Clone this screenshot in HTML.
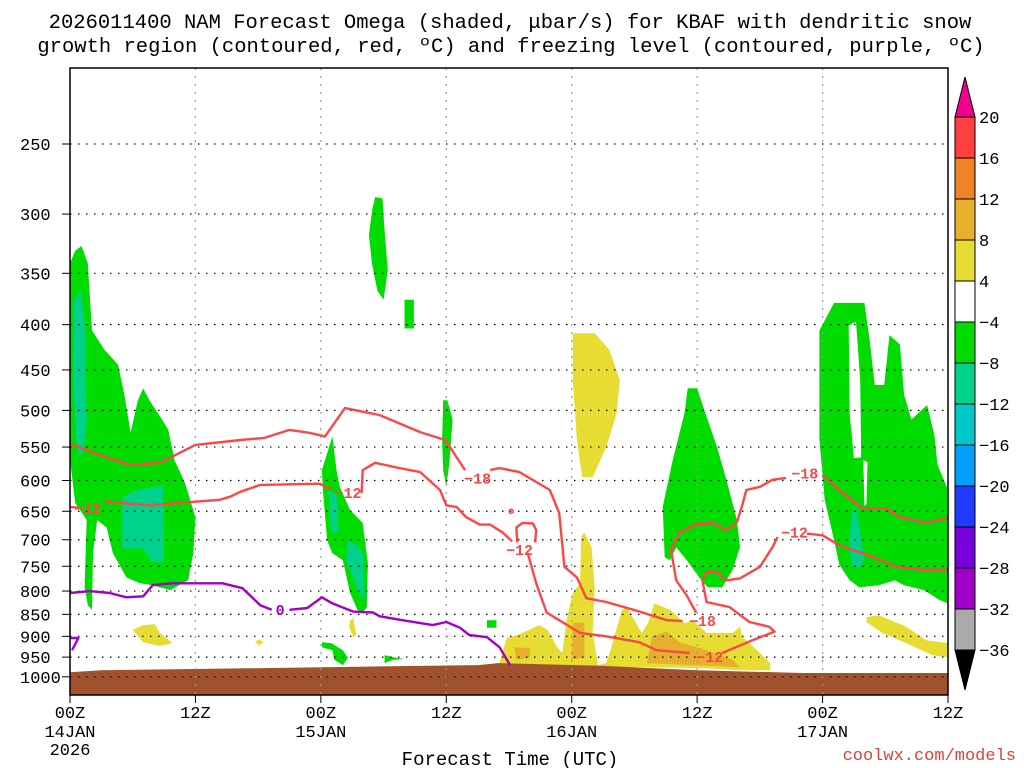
<!DOCTYPE html>
<html><head><meta charset="utf-8"><style>
html,body{margin:0;padding:0;background:#fff;}
svg{display:block;font-family:"Liberation Mono",monospace;}
</style></head><body>
<svg id="chart" width="1024" height="768" viewBox="0 0 1024 768">
<text x="510" y="28" font-size="20.5" text-anchor="middle" fill="#000">2026011400 NAM Forecast Omega (shaded, μbar/s) for KBAF with dendritic snow</text>
<text x="511" y="52" font-size="20.5" text-anchor="middle" fill="#000">growth region (contoured, red, ºC) and freezing level (contoured, purple, ºC)</text>
<defs><clipPath id="pc"><rect x="70" y="68" width="878" height="627"/></clipPath></defs>
<g id="shade" clip-path="url(#pc)"></g>
<g id="grid"></g>
<g id="cont" clip-path="url(#pc)"></g>
<rect x="70" y="68" width="878" height="627" fill="none" stroke="#000" stroke-width="1.5"/>
<g id="axes"></g>
<g id="cbar"></g>
<text x="510" y="765" font-size="19" text-anchor="middle" fill="#000">Forecast Time (UTC)</text>
<text x="1016" y="760" font-size="17" text-anchor="end" fill="#e0403c">coolwx.com/models</text>
</svg>
<script>
const pLevels=[250,300,350,400,450,500,550,600,650,700,750,800,850,900,950,1000];
const xHours=[0,12,24,36,48,60,72,84];
const xTop=["00Z","12Z","00Z","12Z","00Z","12Z","00Z","12Z"];
const xMid=["14JAN","","15JAN","","16JAN","","17JAN",""];
const xBot=["2026","","","","","","",""];
const cbLabels=["20","16","12","8","4","−4","−8","−12","−16","−20","−24","−28","−32","−36"];
const cbColors=["#ff4040","#f08228","#e6af2d","#e6dc32","#ffffff","#00dc00","#00d28c","#00c8c8","#00a0ff","#1e3cff","#7800dc","#a000c8","#aaaaaa"];
const groundH=[0,3,17,25,39,41,51,60,70,84];
const groundP=[988,983,978,975,970,965,972,983,990,990];
const green1=[[0,341],[0.5,330],[1.1,326],[1.7,341],[2.1,406],[3.3,427],[4.6,444],[5.2,480],[5.8,530],[6.5,487],[7.0,472],[7.6,487],[8.8,512],[9.4,526],[10.0,569],[11.0,604],[12.0,660],[11.8,725],[11.3,778],[9.6,798],[7.9,788],[6.7,784],[5.4,772],[4.1,725],[3.5,678],[2.6,665],[2.2,725],[2.1,840],[1.7,830],[1.4,792],[1.6,665],[0.5,636],[0,569]];
const teal1=[[0.4,375],[1.0,366],[1.4,395],[1.6,512],[1.3,554],[0.9,565],[0.6,540],[0.3,462]];
const teal2=[[5.0,628],[5.9,618],[8.9,607],[9.0,742],[7.8,742],[7.0,716],[5.0,716]];
const green2=[[25.1,535],[25.5,584],[25.8,610],[26.8,648],[28.0,670],[28.5,744],[28.4,834],[28.0,846],[27.5,840],[26.8,804],[26.1,738],[25.1,725],[24.6,701],[24.2,615],[24.1,584]];
const teal3=[[24.7,618],[25.5,620],[25.7,687],[25.0,687]];
const teal4=[[26.6,701],[27.2,707],[28.0,723],[28.2,819],[27.7,804],[26.9,763],[26.4,738]];
const green5=[[29.2,287],[29.9,288],[30.1,313],[30.4,347],[30.0,375],[29.4,366],[28.9,342],[28.6,317],[28.9,297]];
const green6=[[32.0,375],[32.9,375],[32.9,404],[32.0,404]];
const green7=[[35.7,487],[36.1,487],[36.6,512],[36.3,573],[36.0,610],[35.7,584],[35.6,540]];
const green8=[[59.1,472],[60.0,472],[60.9,508],[61.9,550],[62.8,599],[63.8,665],[64.1,714],[63.4,757],[62.4,792],[61.0,792],[60.2,772],[59.0,738],[58.0,714],[57.4,738],[56.9,733],[56.7,643],[57.6,573],[58.8,503]];
const green9=[[71.7,406],[73.1,378],[76.0,378],[76.5,416],[77.0,468],[77.9,468],[78.4,411],[79.4,421],[79.8,480],[80.5,512],[82.0,493],[82.7,533],[83.0,576],[84,615],[84,826],[83.2,819],[81.7,798],[79.8,788],[78.9,778],[77.4,788],[75.5,792],[74.6,778],[73.6,747],[73.1,701],[72.2,631],[71.7,540]];
const hole1=[[74.5,401],[75.2,397],[75.6,462],[75.7,565],[75.0,566],[74.6,504]];
const hole2=[[75.9,569],[76.3,572],[76.2,638],[76.0,641]];
const teal5=[[74.9,641],[75.3,651],[76.0,738],[75.5,753],[74.9,751],[74.5,714]];
const green10=[[24.1,914],[25.0,916],[26.1,933],[26.6,952],[26.1,970],[25.3,957],[25.1,933],[24.1,926]];
const green11=[[30.1,945],[30.9,950],[32.0,955],[30.9,957],[30.1,965]];
const green12=[[39.9,863],[40.8,863],[40.8,880],[39.9,880]];
const yel1=[[48.1,409],[50.2,409],[51.6,427],[52.6,462],[52.3,504],[51.3,550],[50.0,595],[49.0,595],[48.5,540],[48.1,462]];
const yel2=[[41.1,962],[41.8,903],[43.0,895],[44.9,874],[45.7,885],[46.6,926],[47.1,940],[47.5,863],[48.1,804],[48.8,784],[48.9,695],[49.2,687],[49.9,714],[50.2,792],[50.0,892],[50.4,950],[50.5,970],[51.3,965],[51.8,926],[52.8,840],[53.3,834],[54.0,863],[54.7,892],[55.3,870],[55.9,826],[57.4,840],[58.8,870],[59.6,863],[60.9,892],[63.4,892],[64.1,878],[64.3,900],[66.0,940],[67.0,965],[67.0,983],[64.1,983],[60.9,978],[54.5,975],[48.1,975],[41.1,972]];
const yel3=[[76.2,856],[77.4,852],[80.0,878],[81.9,909],[84,916],[84,950],[82.5,945],[80.0,916],[77.7,892],[76.2,867]];
const yel4=[[6.0,885],[7.0,874],[8.1,872],[8.6,892],[9.8,916],[8.6,923],[7.0,914]];
const yel5=[[26.8,863],[27.1,859],[27.4,897],[27.1,902],[26.7,878]];
const yel6=[[17.7,914],[18.1,907],[18.5,914],[18.1,921]];
const org1=[[42.5,926],[44.0,928],[44.0,952],[42.7,957]];
const org2=[[48.1,870],[49.2,868],[49.2,950],[48.0,957]];
const org3=[[55.7,900],[57.1,889],[58.3,914],[60.5,930],[63.4,957],[64.1,975],[55.2,965]];
const redA1=[[0,545],[2.9,562],[5.7,576],[8.6,573],[12.0,547],[16.3,540],[18.6,537],[21.0,526],[22.9,530],[24.4,535],[26.3,497],[29.6,506],[33.5,529],[35.9,540],[37.8,584]];
const redA2=[[40.2,584],[41.1,581],[43.0,587],[45.9,615],[46.8,653],[47.3,751],[48.5,772],[49.4,815],[51.3,823],[54.5,844],[57.1,863],[58.6,865]];
const redC1=[[59.9,846],[59.0,809],[58.0,778],[57.5,719],[58.3,687],[59.9,672],[61.5,670],[62.8,683],[63.8,669],[64.3,641],[64.7,615],[66.0,610],[67.2,599],[68.5,596]];
const redC2=[[72.0,591],[73.6,615],[75.8,645],[78.1,645],[79.4,660],[81.9,670],[84,661]];
const redB1=[[0,643],[0.8,644]];
const redB2=[[3.3,633],[4.8,636],[7.6,640],[10.5,636],[14.3,631],[15.3,626],[16.3,618],[18.2,607],[23.9,605],[25.0,614]];
const redB3=[[27.9,620],[28.0,584],[29.2,573],[31.5,581],[33.5,587],[35.4,615],[36.0,640],[37.0,643],[37.9,660],[39.2,673],[40.2,673],[41.4,687],[42.3,703]];
const redB4=[[43.8,725],[44.6,784],[45.6,846],[46.8,863],[48.8,892],[51.3,900],[54.5,914],[56.1,933],[59.3,940]];
const redB5=[[62.4,940],[65.3,909],[67.4,889],[66.9,878],[65.0,867],[63.1,834],[60.9,823],[60.5,778],[60.9,761],[61.9,761],[62.8,778],[64.1,774],[66.0,751],[67.2,714],[67.7,695]];
const redB6=[[70.5,689],[72.0,692],[73.6,710],[76.8,732],[79.1,751],[81.5,757],[84,757]];
const redLoop=[[42.8,705],[42.7,678],[43.3,670],[44.3,671],[44.6,683],[44.5,705]];
const purp1=[[0,804],[1.9,800],[3.8,804],[5.4,813],[7.0,811],[7.9,788],[9.8,784],[11.8,784],[14.6,784],[16.5,794],[18.2,830],[19.3,840]];
const purp2=[[21.0,840],[22.7,836],[24.1,813],[25.1,826],[27.1,844],[29.0,846],[29.6,854],[31.8,863],[34.7,874],[36.0,867],[37.3,880],[38.2,897],[39.9,902],[41.1,926],[42.1,970]];
const purp3=[[0,904],[0.8,904],[0.2,933]];
const redLabelH=[1.7,26.6,39.0,43.0,60.5,61.2,69.3,70.3];
const redLabelP=[645,620,597,719,865,950,687,589];
const redLabelT=["−12","−12","−18","−12","−18","−12","−12","−18"];
const purpLabelH=[20.1];
const purpLabelP=[840];
const purpLabelT=["0"];

const NS="http://www.w3.org/2000/svg";
const xS=h=>70+h*878/84;
const yS=p=>144+885*Math.log10(p/250);
function mk(tag,attrs,parent){const e=document.createElementNS(NS,tag);for(const k in attrs)e.setAttribute(k,attrs[k]);parent.appendChild(e);return e;}
const pts=a=>a.map(d=>xS(d[0]).toFixed(1)+","+yS(d[1]).toFixed(1)).join(" ");
const shade=document.getElementById("shade"),grid=document.getElementById("grid"),cont=document.getElementById("cont"),axes=document.getElementById("axes"),cbar=document.getElementById("cbar");
function poly(arr,fill,name){const e=mk("polygon",{points:pts(arr),fill:fill},shade);

}
const G="#00dc00",T="#00d28c",Y="#e6dc32",O="#e6af2d";
[[green1,"g1"],[green2,"g2"],[green5,"g5"],[green6,"g6"],[green7,"g7"],[green8,"g8"],[green9,"g9"],[green10,"g10"],[green11,"g11"],[green12,"g12"]].forEach(g=>poly(g[0],G,"omega-region-"+g[1]));
[hole1,hole2].forEach((h,i)=>poly(h,"#fff","omega-gap-"+i));
[teal1,teal2,teal3,teal4,teal5].forEach((t,i)=>poly(t,T,"omega-strong-region-"+i));
[yel1,yel2,yel3,yel4,yel5,yel6].forEach((t,i)=>poly(t,Y,"omega-rising-region-"+i));
[org1,org2,org3].forEach((t,i)=>poly(t,O,"omega-rising-strong-"+i));
// ground
const gp=groundH.map((h,i)=>[h,groundP[i]]);gp.push([84,1060],[0,1060]);
const ge=mk("polygon",{points:pts(gp),fill:"#a0522d"},shade);


// grid
pLevels.forEach(p=>{const y=yS(p);const l=mk("line",{x1:70,x2:948,y1:y,y2:y,stroke:"#000","stroke-width":1.2,"stroke-dasharray":"1.5 6.5"},grid);


const t=mk("line",{x1:62,x2:70,y1:y,y2:y,stroke:"#000","stroke-width":1},axes);


const tx=mk("text",{x:20,y:y+6,"font-size":17,fill:"#000"},axes);tx.textContent=String(p);

});
xHours.forEach((h,i)=>{const x=xS(h);
if(i>0&&i<xHours.length-1){const l=mk("line",{x1:x,x2:x,y1:68,y2:695,stroke:"#999","stroke-width":1.2,"stroke-dasharray":"2 6"},grid);

}
const t=mk("line",{x1:x,x2:x,y1:695,y2:703,stroke:"#000"},axes);


[[xTop[i],718],[xMid[i],737],[xBot[i],755]].forEach((s,j)=>{if(!s[0])return;const e=mk("text",{x:x,y:s[1],"font-size":17,"text-anchor":"middle",fill:"#000"},axes);e.textContent=s[0];

});});
// contours
function line(arr,col,name){const e=mk("polyline",{points:pts(arr),fill:"none",stroke:col,"stroke-width":2.4,"stroke-linejoin":"round"},cont);

}
const R="#ff4646",P="#a000c8";
[redA1,redA2,redC1,redC2,redB1,redB2,redB3,redB4,redB5,redB6,redLoop].forEach((a,i)=>line(a,R,"dgz-contour-"+i));
[purp1,purp2,purp3].forEach((a,i)=>line(a,P,"freezing-contour-"+i));
redLabelH.forEach((h,i)=>{const e=mk("text",{x:xS(h),y:yS(redLabelP[i])+5,"font-size":15,"font-weight":"bold","text-anchor":"middle",fill:R},cont);e.textContent=redLabelT[i];

});
purpLabelH.forEach((h,i)=>{const e=mk("text",{x:xS(h),y:yS(purpLabelP[i])+5,"font-size":15,"font-weight":"bold","text-anchor":"middle",fill:P},cont);e.textContent=purpLabelT[i];

});
const dot=mk("circle",{cx:xS(42.2),cy:yS(650),r:2,fill:"none",stroke:R,"stroke-width":1.5},cont);


// colorbar
const cbX=955,cbW=20,cbTop=117,cbStep=41;
const tri1=mk("polygon",{points:`${cbX},${cbTop} ${cbX+cbW},${cbTop} ${cbX+cbW/2},${cbTop-40}`,fill:"#f0008c",stroke:"#000"},cbar);


cbColors.forEach((c,i)=>{const r=mk("rect",{x:cbX,y:cbTop+i*cbStep,width:cbW,height:cbStep,fill:c,stroke:"#000","stroke-width":1},cbar);

});
const yb=cbTop+cbColors.length*cbStep;
const tri2=mk("polygon",{points:`${cbX},${yb} ${cbX+cbW},${yb} ${cbX+cbW/2},${yb+40}`,fill:"#000",stroke:"#000"},cbar);


cbLabels.forEach((s,i)=>{const e=mk("text",{x:979,y:cbTop+i*cbStep+6,"font-size":17,fill:"#000"},cbar);e.textContent=s;

});
</script>
</body></html>
